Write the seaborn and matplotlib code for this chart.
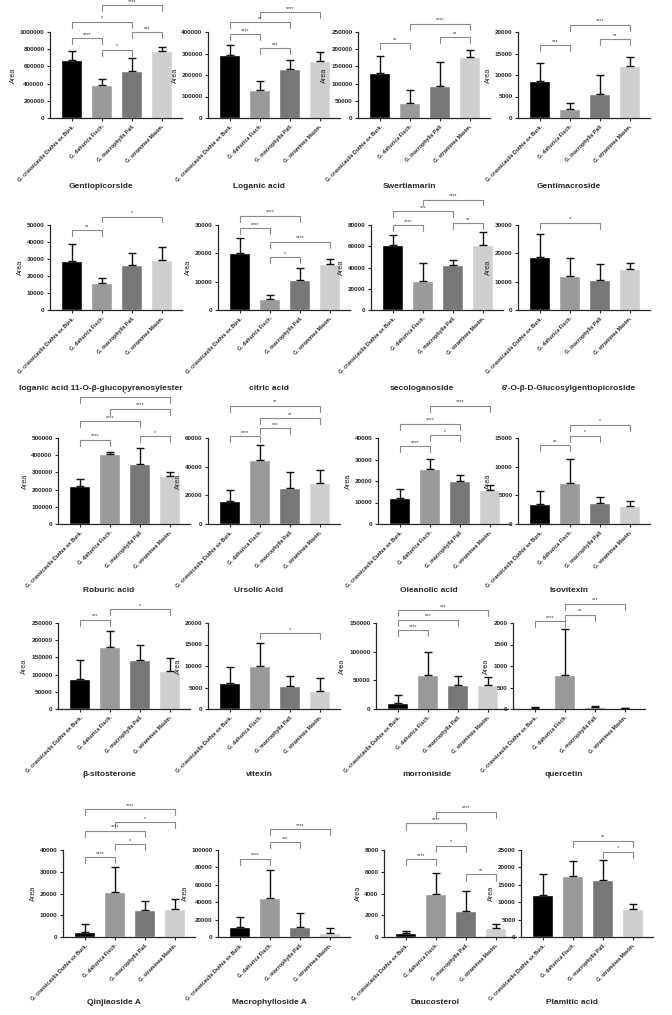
import matplotlib
matplotlib.use("Agg")
import matplotlib.pyplot as plt
import seaborn as sns
import pandas as pd

species = ["G. crassicaulis Duthie ex Burk.", "G. dahurica Fisch.",
           "G. macrophylla Pall.", "G. straminea Maxim."]
bar_colors = ["#000000", "#9a9a9a", "#777777", "#cfcfcf"]

titles = ["Gentiopicorside", "Loganic acid", "Swertiamarin", "Gentimacroside",
          "loganic acid 11-O-\u03b2-glucopyranosylester", "citric acid", "secologanoside",
          "6'-O-\u03b2-D-Glucosylgentiopicroside",
          "Roburic acid", "Ursolic Acid", "Oleanolic acid", "Isovitexin",
          "\u03b2-sitosterone", "vitexin", "morroniside", "quercetin",
          "Qinjiaoside A", "Macrophylloside A", "Daucosterol", "Plamitic acid"]

means = [
    [670000, 385000, 550000, 775000],
    [293000, 128000, 226000, 265000],
    [130000, 45000, 93000, 177000],
    [8600, 2000, 5600, 12000],
    [28700, 15700, 26200, 29200],
    [20000, 3900, 10500, 16300],
    [61000, 27500, 42000, 61500],
    [18700, 12000, 10700, 14600],
    [222000, 405000, 350000, 280000],
    [15800, 44600, 24800, 28300],
    [12000, 25500, 19800, 15700],
    [3500, 7100, 3700, 3200],
    [88000, 180000, 142000, 110000],
    [6100, 10000, 5400, 4100],
    [10000, 60000, 42000, 42000],
    [20, 800, 50, 15],
    [2300, 20700, 12500, 13000],
    [11000, 45000, 11500, 5000],
    [400, 3950, 2400, 800],
    [12000, 17500, 16500, 8000],
]

errors = [
    [110000, 70000, 145000, 55000],
    [45000, 42000, 42000, 40000],
    [50000, 35000, 70000, 21000],
    [4200, 1600, 4500, 2300],
    [10100, 3300, 7200, 8100],
    [5400, 1300, 4300, 1700],
    [10000, 16500, 5500, 12000],
    [8300, 6200, 5500, 2100],
    [40000, 13000, 93000, 23000],
    [8200, 10400, 11200, 9700],
    [4200, 4700, 3200, 2300],
    [2200, 4300, 1000, 800],
    [54000, 46000, 45000, 38000],
    [3600, 5400, 2300, 3200],
    [15000, 39000, 15000, 14000],
    [15, 1070, 25, 15],
    [3900, 11300, 4000, 4300],
    [12000, 32000, 16500, 5500],
    [150, 1900, 1850, 400],
    [6200, 4200, 5500, 1500],
]

y_max = [1000000, 400000, 250000, 20000, 50000, 30000, 80000, 30000,
         500000, 60000, 40000, 15000, 250000, 20000, 150000, 2000,
         40000, 100000, 8000, 25000]
y_step = [200000, 100000, 50000, 5000, 10000, 10000, 20000, 10000,
          100000, 20000, 10000, 5000, 50000, 5000, 50000, 500,
          10000, 20000, 2000, 5000]

# significance brackets: (group a, group b, label, height)
brackets = [
    [(0, 1, "****", 930000), (1, 2, "*", 795000), (2, 3, "***", 1000000), (0, 2, "*", 1120000), (1, 3, "****", 1310000)],
    [(0, 1, "****", 390000), (1, 2, "***", 325000), (0, 2, "**", 445000), (1, 3, "****", 491000)],
    [(0, 1, "**", 217000), (2, 3, "**", 235000), (1, 3, "****", 274000)],
    [(0, 1, "***", 16900), (2, 3, "**", 18300), (1, 3, "****", 21700)],
    [(0, 1, "**", 47100), (1, 3, "*", 55000)],
    [(1, 2, "*", 18600), (1, 3, "****", 24100), (0, 1, "****", 28800), (0, 2, "****", 33300)],
    [(0, 1, "****", 80000), (2, 3, "**", 81500), (0, 2, "***", 93000), (1, 3, "****", 104000)],
    [(0, 2, "*", 30800)],
    [(0, 1, "****", 490000), (2, 3, "*", 510000), (0, 2, "****", 597000), (1, 3, "****", 670000), (0, 3, "*", 736000)],
    [(0, 1, "****", 61200), (1, 2, "***", 67000), (1, 3, "**", 74000), (0, 3, "**", 82600)],
    [(0, 1, "****", 36150), (1, 2, "*", 41200), (0, 2, "****", 46600), (1, 3, "****", 55000)],
    [(0, 1, "**", 13800), (1, 2, "*", 15400), (1, 3, "*", 17300)],
    [(0, 1, "***", 260000), (1, 3, "*", 290700)],
    [(1, 3, "*", 17700)],
    [(0, 1, "****", 137000), (0, 2, "***", 156000), (0, 3, "***", 172000)],
    [(0, 1, "****", 2040), (1, 2, "**", 2190), (1, 3, "***", 2450)],
    [(0, 1, "****", 36800), (1, 2, "*", 42700), (0, 2, "****", 48900), (1, 3, "*", 52700), (0, 3, "****", 58800)],
    [(0, 1, "****", 90000), (1, 2, "***", 109000), (1, 3, "****", 124000)],
    [(2, 3, "**", 5750), (0, 1, "****", 7160), (1, 2, "*", 8400), (0, 2, "****", 10440), (1, 3, "****", 11530)],
    [(2, 3, "*", 24500), (1, 3, "**", 27700)],
]

sns.set_style("ticks")
plt.rcParams["font.family"] = ["Liberation Sans", "DejaVu Sans"]

W, H = 672, 1015
fig = plt.figure(figsize=(6.72, 10.15), dpi=100)

# axes layout in pixels: (top, bottom) per row, left per panel
row_px = [(32, 118), (225, 310), (438, 524), (623, 709), (850, 937)]
left_px = [[50, 208, 358, 518],
           [50, 218, 371, 518],
           [58, 208, 378, 518],
           [58, 208, 376, 513],
           [63, 218, 384, 521]]
title_px = [187, 388, 590, 775, 1002]
ax_w = 132

for k in range(20):
    r, c = k // 4, k % 4
    top, bot = row_px[r]
    left = left_px[r][c]
    ax = fig.add_axes([left / W, 1 - bot / H, ax_w / W, (bot - top) / H])

    df = pd.DataFrame({"species": species, "area": means[k]})
    sns.barplot(data=df, x="species", y="area", hue="species", palette=bar_colors,
                legend=False, width=0.7, ax=ax, errorbar=None, saturation=1)
    ax.errorbar(range(4), means[k], yerr=[[0] * 4, errors[k]], fmt="none",
                ecolor="#111111", elinewidth=1.0, capsize=3, capthick=1.0, zorder=3)

    ax.set_xlim(-0.73, 3.67)
    ax.set_ylim(0, y_max[k])
    ticks = list(range(0, y_max[k] + 1, y_step[k]))
    ax.set_yticks(ticks)
    ax.set_yticklabels([str(t) for t in ticks], fontsize=4.6, fontweight="bold")
    ax.set_xticks(range(4))
    ax.set_xticklabels(species, rotation=45, ha="right", rotation_mode="anchor",
                       fontsize=3.8, fontweight="bold")
    ax.set_xlabel("")
    ax.set_ylabel("Area", fontsize=5.2, labelpad=2)
    ax.tick_params(axis="both", length=2.5, width=0.8, pad=1.5)
    sns.despine(ax=ax)
    for s in ["left", "bottom"]:
        ax.spines[s].set_linewidth(0.9)

    leg = 0.07 * y_max[k]
    for a, b, lab, h in brackets[k]:
        ax.plot([a, a, b, b], [h - leg, h, h, h - leg], color="#8a8a8a",
                lw=0.8, clip_on=False)
        ax.text((a + b) / 2, h + 0.015 * y_max[k], lab, ha="center", va="bottom",
                fontsize=4, color="#333333", clip_on=False)

    fig.text((left + ax_w / 2 - 15) / W, 1 - title_px[r] / H, titles[k],
             ha="center", va="center", fontsize=6, fontweight="bold")

fig.savefig("out.png", dpi=100)
